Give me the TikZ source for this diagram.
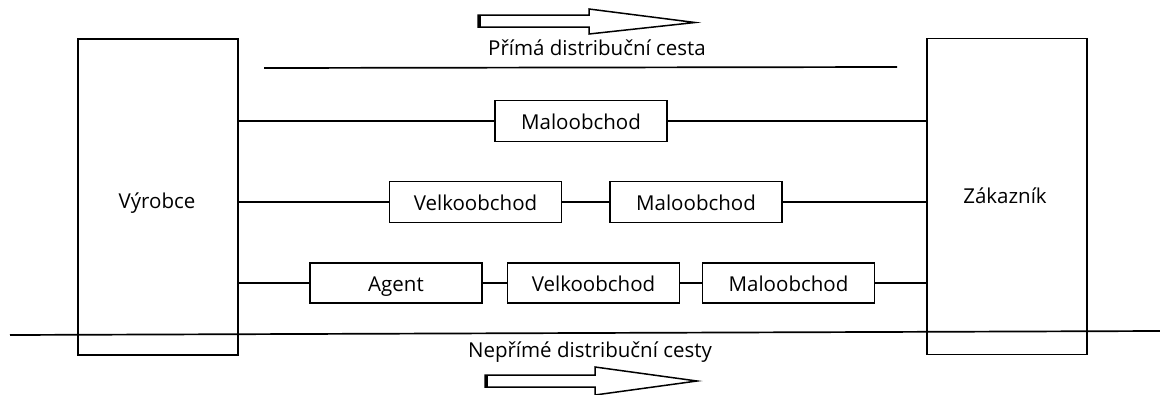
\documentclass[tikz,border=0pt]{standalone}
\usepackage{fontspec}
\setmainfont{Open Sans}
\begin{document}
\begin{tikzpicture}[x=1pt,y=-1pt,
  line width=1.7pt,
  labelfont/.style={font=\fontsize{20.5}{24}\selectfont},
  party/.style={draw, line width=1.7pt, minimum width=160pt, minimum height=316pt, inner sep=0pt},
  channel/.style={draw, line width=1.7pt, minimum width=172pt, minimum height=41pt, inner sep=0pt,
    text height=20pt, text depth=4pt, labelfont},
  caption/.style={labelfont, inner sep=0pt, anchor=base},
  blockarrow/.style={draw, line width=1.5pt, line join=miter, fill=white}]
\useasboundingbox (0,0) rectangle (1160,394);
\clip (0,0) rectangle (1160,394);

% end parties
\node[party] (vyr) at (158,197) {};
\node[caption] at (157,208) {Výrobce};
\node[party] (zak) at (1007,196.5) {};
\node[caption] at (1005,203) {Zákazník};

% direct channel
\coordinate (d1) at (264,68);
\coordinate (d2) at (897,67);
\draw (d1) -- (d2);
\node[caption] (ptext) at (597,55) {Přímá distribuční cesta};

% row 1
\node[channel] (r1m) at (581,121) {Maloobchod};
\draw (vyr.east |- r1m.west) -- (r1m.west);
\draw (r1m.east) -- (zak.west |- r1m.east);

% row 2
\node[channel] (r2v) at (475.5,202) {Velkoobchod};
\node[channel] (r2m) at (696,202) {Maloobchod};
\draw (vyr.east |- r2v.west) -- (r2v.west);
\draw (r2v.east) -- (r2m.west);
\draw (r2m.east) -- (zak.west |- r2m.east);

% row 3
\node[channel, minimum height=40pt] (r3a) at (396,283) {Agent};
\node[channel, minimum height=40pt] (r3v) at (593.5,283) {Velkoobchod};
\node[channel, minimum height=40pt] (r3m) at (788.5,283) {Maloobchod};
\draw (vyr.east |- r3a.west) -- (r3a.west);
\draw (r3a.east) -- (r3v.west);
\draw (r3v.east) -- (r3m.west);
\draw (r3m.east) -- (zak.west |- r3m.east);

% indirect channels
\coordinate (n1) at (10,335);
\coordinate (n2) at (1160,331);
\draw (n1) -- (n2);
\node[caption] (ntext) at (590,357) {Nepřímé distribuční cesty};

% direction arrows
\draw[blockarrow] (478,15) -- (589,15) -- (589,9) -- (695,22.5) -- (589,34) -- (589,27) -- (478,27) -- cycle;
\draw[line width=3pt] (479,14.5) -- (479,27.5);
\draw[blockarrow] (485,375) -- (595,375) -- (595,367) -- (697,381) -- (595,395) -- (595,387) -- (485,387) -- cycle;
\draw[line width=3pt] (486,374.5) -- (486,387.5);
\end{tikzpicture}
\end{document}
